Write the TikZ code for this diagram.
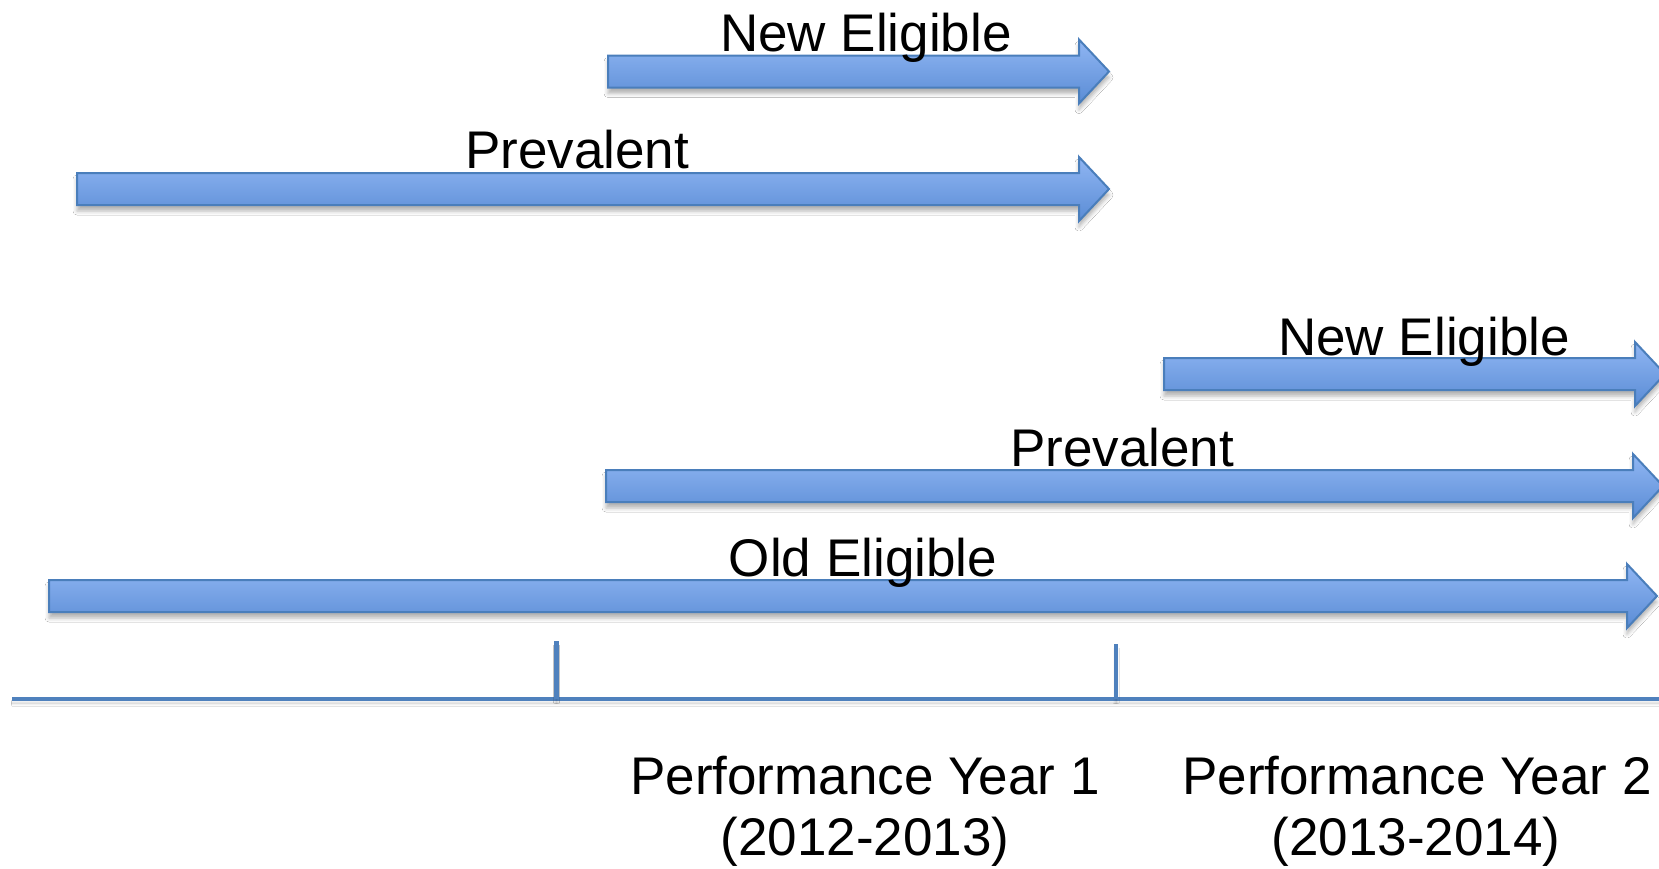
\documentclass[tikz,border=0pt]{standalone}
\usepackage{fontspec}
\setmainfont{Liberation Sans}
\usetikzlibrary{shadows.blur}

\definecolor{arrowtop}{HTML}{90B6F3}
\definecolor{arrowbot}{HTML}{5A8CD5}
\definecolor{arrowedge}{HTML}{4A7EBB}
\definecolor{axisblue}{HTML}{4F81BD}

\tikzset{
  fatarrow/.style={draw=arrowedge, line width=1pt, line join=miter,
    top color=arrowtop, bottom color=arrowbot,
    blur shadow={shadow xshift=0pt, shadow yshift=-3pt,
      shadow blur radius=2pt, shadow opacity=30}},
  lbl/.style={font=\fontsize{26.5pt}{32pt}\selectfont, anchor=base, inner sep=0pt},
  axisline/.style={draw=axisblue, line width=2.4pt,
    blur shadow={shadow xshift=0pt, shadow yshift=-2pt,
      shadow blur radius=1.5pt, shadow opacity=25}}
}

% block arrow: start x, tip x, centre y
\newcommand\blockarrow[3]{%
  \path[fatarrow] (#1,#3-16) -- (#2-30,#3-16) -- (#2-30,#3-32) -- (#2,#3)
    -- (#2-30,#3+32) -- (#2-30,#3+16) -- (#1,#3+16) -- cycle;
}

\begin{document}
\begin{tikzpicture}[x=0.5pt, y=-0.5pt]
  \useasboundingbox[fill=white] (0,0) rectangle (1659,868);

  % eligibility periods
  \blockarrow{608}{1109}{71.5}
  \blockarrow{77}{1109}{189}
  \blockarrow{1164}{1665}{374}
  \blockarrow{606}{1663}{486}
  \blockarrow{49}{1657}{596}

  \node[lbl] (ne1) at (866,51) {New Eligible};
  \node[lbl] (pr1) at (577,168) {Prevalent};
  \node[lbl] (ne2) at (1424,355) {New Eligible};
  \node[lbl] (pr2) at (1122,466) {Prevalent};
  \node[lbl] (old) at (863,576) {Old Eligible};

  % time axis with year boundaries
  \coordinate (axl) at (12,699);
  \coordinate (axr) at (1659,699);
  \coordinate (t1top) at (556.5,641);
  \coordinate (t1bot) at (556.5,699);
  \coordinate (t2top) at (1116,644);
  \coordinate (t2bot) at (1116,699);
  \draw[axisline] (axl) -- (axr);
  \draw[axisline] (t1top) -- (t1bot);
  \draw[axisline] (t2top) -- (t2bot);

  \node[lbl] (py1) at (865,794) {Performance Year 1};
  \node[lbl] (py1d) at (865,855) {(2012-2013)};
  \node[lbl] (py2) at (1417,794) {Performance Year 2};
  \node[lbl] (py2d) at (1416,855) {(2013-2014)};
\end{tikzpicture}
\end{document}
